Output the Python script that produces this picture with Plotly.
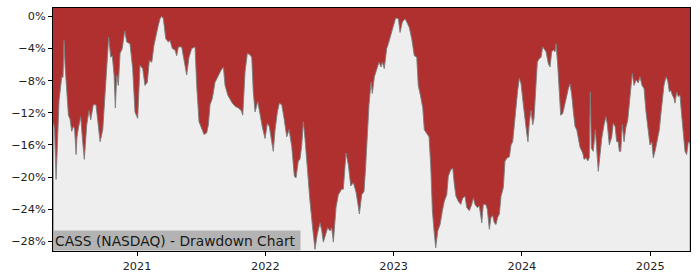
import pandas as pd
import plotly.graph_objects as go

# decimal-year time stamps of traced points
years = [
2020.349,2020.357,2020.369,2020.380,2020.392,2020.400,2020.413,2020.423,2020.431,2020.439,
2020.451,2020.465,2020.478,2020.491,2020.504,2020.513,2020.525,2020.532,2020.543,2020.561,
2020.574,2020.589,2020.608,2020.626,2020.639,2020.659,2020.680,2020.698,2020.712,2020.733,
2020.751,2020.769,2020.779,2020.795,2020.807,2020.821,2020.831,2020.842,2020.854,2020.868,
2020.885,2020.904,2020.920,2020.945,2020.966,2020.984,2021.005,2021.023,2021.044,2021.062,
2021.080,2021.096,2021.115,2021.132,2021.154,2021.166,2021.179,2021.193,2021.205,2021.224,
2021.244,2021.257,2021.275,2021.296,2021.309,2021.322,2021.348,2021.366,2021.387,2021.405,
2021.426,2021.452,2021.465,2021.483,2021.504,2021.522,2021.543,2021.556,2021.569,2021.587,
2021.608,2021.634,2021.655,2021.673,2021.686,2021.707,2021.725,2021.743,2021.764,2021.790,
2021.811,2021.824,2021.842,2021.860,2021.881,2021.894,2021.906,2021.920,2021.941,2021.959,
2021.978,2021.998,2022.016,2022.031,2022.050,2022.062,2022.076,2022.094,2022.109,2022.128,
2022.146,2022.167,2022.185,2022.206,2022.226,2022.239,2022.257,2022.270,2022.284,2022.296,
2022.309,2022.327,2022.348,2022.366,2022.387,2022.405,2022.426,2022.440,2022.452,2022.471,
2022.486,2022.504,2022.517,2022.530,2022.551,2022.569,2022.595,2022.608,2022.629,2022.647,
2022.666,2022.686,2022.707,2022.720,2022.733,2022.751,2022.769,2022.781,2022.790,2022.808,
2022.824,2022.834,2022.850,2022.868,2022.886,2022.902,2022.912,2022.927,2022.946,2022.959,
2022.980,2022.998,2023.016,2023.037,2023.050,2023.068,2023.089,2023.102,2023.122,2023.141,
2023.161,2023.180,2023.192,2023.211,2023.227,2023.239,2023.258,2023.276,2023.289,2023.302,
2023.315,2023.328,2023.344,2023.362,2023.380,2023.395,2023.414,2023.426,2023.445,2023.461,
2023.473,2023.486,2023.504,2023.523,2023.539,2023.556,2023.570,2023.590,2023.609,2023.621,
2023.634,2023.652,2023.668,2023.687,2023.699,2023.718,2023.730,2023.746,2023.759,2023.772,
2023.785,2023.798,2023.811,2023.824,2023.837,2023.855,2023.868,2023.886,2023.902,2023.915,
2023.928,2023.941,2023.954,2023.967,2023.980,2023.993,2024.011,2024.024,2024.037,2024.047,
2024.058,2024.071,2024.084,2024.094,2024.107,2024.120,2024.133,2024.149,2024.162,2024.172,
2024.188,2024.206,2024.219,2024.232,2024.245,2024.258,2024.266,2024.279,2024.291,2024.302,
2024.318,2024.330,2024.349,2024.362,2024.375,2024.388,2024.401,2024.414,2024.427,2024.440,
2024.453,2024.474,2024.484,2024.500,2024.513,2024.525,2024.533,2024.541,2024.556,2024.572,
2024.583,2024.595,2024.609,2024.622,2024.640,2024.655,2024.666,2024.681,2024.700,2024.712,
2024.726,2024.739,2024.751,2024.759,2024.770,2024.782,2024.796,2024.809,2024.825,2024.837,
2024.848,2024.860,2024.874,2024.889,2024.907,2024.920,2024.936,2024.952,2024.967,2024.980,
2024.998,2025.012,2025.024,2025.040,2025.055,2025.071,2025.082,2025.094,2025.107,2025.123,
2025.136,2025.149,2025.160,2025.172,2025.185,2025.193,2025.206,2025.219,2025.232,2025.245,
2025.258,2025.271,2025.284,2025.297,2025.308,
]

# drawdown from running peak, percent
drawdown = [
-13.3,-14.0,-20.3,-14.5,-10.5,-9.4,-7.5,-7.6,-3.0,-6.1,
-9.5,-12.3,-12.8,-14.3,-13.7,-14.0,-17.2,-15.0,-13.9,-12.5,
-15.2,-17.8,-13.5,-11.7,-12.9,-11.0,-11.0,-13.5,-15.6,-14.1,
-9.0,-4.9,-2.6,-5.1,-4.9,-7.3,-11.4,-7.3,-8.6,-4.6,
-4.0,-1.8,-3.2,-3.4,-6.5,-11.9,-12.7,-6.1,-6.5,-8.6,
-8.2,-5.5,-5.7,-3.6,-1.8,-1.1,-0.3,0.0,-0.3,-2.8,
-3.2,-3.0,-4.0,-4.2,-4.9,-3.8,-3.8,-5.5,-7.3,-5.1,
-4.0,-3.8,-8.6,-13.1,-14.1,-14.7,-14.5,-13.5,-11.0,-10.2,
-8.2,-7.3,-6.7,-6.3,-8.6,-9.8,-10.4,-10.8,-11.2,-11.4,
-11.7,-12.3,-6.9,-4.6,-4.8,-5.1,-9.4,-11.9,-10.6,-12.3,
-13.9,-15.2,-13.3,-13.7,-16.0,-16.8,-14.1,-11.9,-10.8,-11.0,
-12.7,-15.0,-14.1,-16.2,-19.9,-20.1,-18.0,-17.8,-16.0,-13.1,
-15.2,-19.3,-23.0,-25.9,-29.0,-27.1,-25.7,-26.7,-28.1,-27.1,
-26.3,-26.7,-26.3,-28.1,-23.8,-22.2,-21.5,-21.5,-17.0,-18.5,
-21.1,-20.7,-21.9,-23.2,-24.6,-22.2,-21.8,-19.0,-15.6,-11.0,
-8.2,-9.6,-7.5,-6.5,-5.7,-6.3,-5.7,-6.5,-4.0,-3.4,
-2.2,-0.9,-0.2,-0.3,-2.0,-0.7,-0.3,-0.7,-1.4,-2.8,
-4.9,-5.1,-8.6,-10.0,-11.4,-14.1,-14.5,-15.0,-18.5,-24.2,
-26.7,-28.8,-26.7,-25.9,-24.2,-23.0,-22.2,-19.9,-19.1,-18.9,
-20.9,-22.4,-23.0,-23.4,-22.6,-22.4,-23.8,-24.2,-23.4,-22.6,
-23.4,-23.8,-23.6,-25.7,-23.4,-23.4,-24.0,-26.5,-25.0,-24.8,
-25.7,-25.9,-25.0,-24.6,-22.4,-21.3,-18.0,-17.6,-17.5,-16.0,
-15.6,-13.1,-11.0,-9.2,-7.7,-8.4,-11.0,-13.1,-14.5,-15.6,
-13.1,-11.7,-13.5,-12.7,-9.0,-5.7,-5.3,-5.1,-3.8,-4.0,
-4.4,-5.9,-6.3,-4.4,-4.2,-4.4,-3.4,-6.1,-9.4,-12.3,
-12.1,-11.2,-10.0,-9.0,-8.4,-9.8,-11.9,-13.7,-14.1,-15.2,
-16.3,-17.0,-17.8,-17.6,-18.0,-17.6,-9.4,-16.4,-16.8,-14.1,
-16.4,-19.3,-17.2,-15.2,-13.5,-12.5,-13.5,-16.0,-15.0,-13.3,
-13.7,-15.6,-15.6,-16.8,-16.8,-13.5,-15.6,-13.9,-12.9,-11.0,
-8.6,-7.1,-8.6,-7.9,-8.3,-7.5,-8.6,-9.0,-11.9,-13.9,
-16.0,-15.6,-17.6,-16.6,-15.2,-14.1,-12.3,-10.2,-8.6,-7.5,
-8.0,-9.4,-9.2,-9.8,-10.2,-10.8,-9.4,-10.0,-9.8,-12.3,
-14.7,-16.8,-17.2,-15.6,-15.8,
]

y_ticks = [0, -4, -8, -12, -16, -20, -24, -28]
y_tick_labels = ["0%", "\u22124%", "\u22128%", "\u221212%", "\u221216%", "\u221220%", "\u221224%", "\u221228%"]
x_tick_years = [2021, 2022, 2023, 2024, 2025]
x_tick_labels = ["2021", "2022", "2023", "2024", "2025"]
x_span = (2020.345, 2025.310)
y_span = (-29.2, 1.04)
title_text = "CASS (NASDAQ) - Drawdown Chart"

base = pd.Timestamp("2021-01-01")
def to_date(yr):
    return base + pd.to_timedelta((yr - 2021) * 365.25, unit="D")

dates = [to_date(v) for v in years]

fig = go.Figure()
fig.add_trace(go.Scatter(x=dates, y=[y_span[0]] * len(dates), mode="lines",
                         line=dict(width=0, color="rgba(0,0,0,0)"), hoverinfo="skip",
                         showlegend=False))
fig.add_trace(go.Scatter(x=dates, y=drawdown, mode="lines", fill="tonexty",
                         fillcolor="#eeeeee",
                         line=dict(color="rgba(125,125,125,0.9)", width=1),
                         showlegend=False))

fig.update_layout(
    width=700, height=280,
    margin=dict(l=53, r=10, t=7, b=28),
    plot_bgcolor="#b03030", paper_bgcolor="white",
    font=dict(family="DejaVu Sans", size=11.3, color="#222222"),
    xaxis=dict(range=[to_date(x_span[0]), to_date(x_span[1])], type="date",
               tickvals=[to_date(v) for v in x_tick_years], ticktext=x_tick_labels,
               showgrid=False, zeroline=False, ticks="outside", ticklen=4,
               tickcolor="black", showline=True, linecolor="black", linewidth=1,
               mirror=True),
    yaxis=dict(range=list(y_span), tickvals=y_ticks, ticktext=y_tick_labels,
               showgrid=False, zeroline=False, ticks="outside", ticklen=4,
               tickcolor="black", showline=True, linecolor="black", linewidth=1,
               mirror=True),
    annotations=[dict(text=title_text, xref="paper", yref="paper", x=0, y=0,
                      xanchor="left", yanchor="bottom", showarrow=False,
                      bgcolor="#b3b3b3", borderpad=1, width=244, height=17,
                      align="left", font=dict(size=13.8, color="#1a1a1a"))],
)

fig.write_html("out.html")
